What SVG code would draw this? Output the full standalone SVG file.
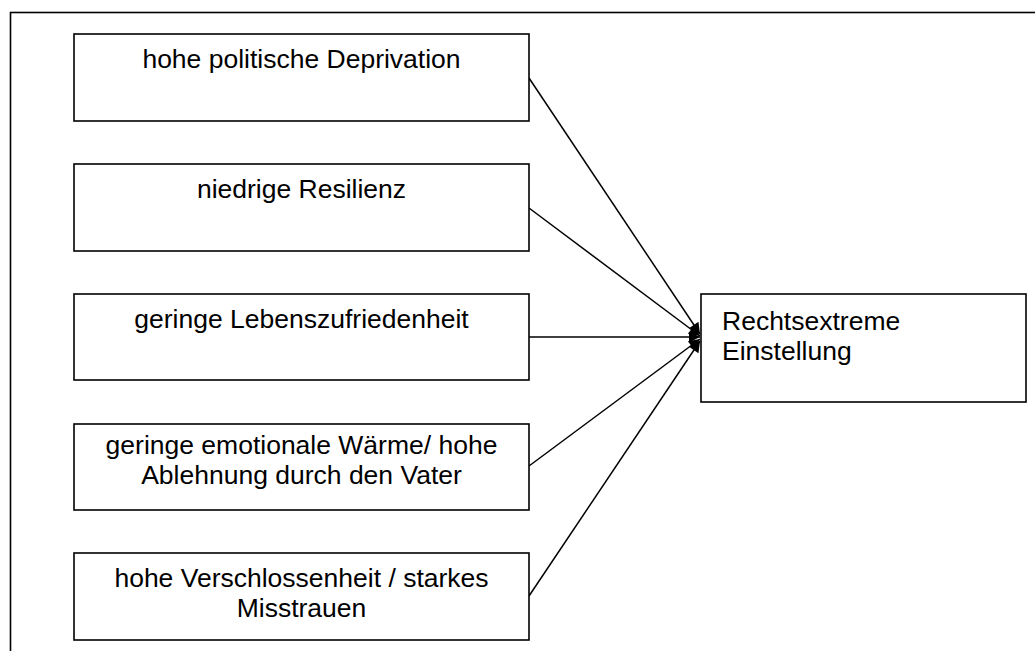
<svg xmlns="http://www.w3.org/2000/svg" width="1035" height="651" viewBox="0 0 1035 651">
<style>
.box{fill:#fff;stroke:#000;stroke-width:1.6}
.t{font-family:"Liberation Sans",Arial,sans-serif;font-size:26.5px;fill:#000}
.c{text-anchor:middle}
.ln{stroke:#000;stroke-width:1.5;fill:none;marker-end:url(#ah)}
</style>
<defs>
<marker id="ah" viewBox="0 0 10 10" refX="10" refY="5" markerWidth="14" markerHeight="11" markerUnits="userSpaceOnUse" orient="auto">
<path d="M0,0 L10,5 L0,10 z" fill="#000"/>
</marker>
</defs>
<rect x="10.5" y="12.5" width="1100" height="700" fill="#fff" stroke="#000" stroke-width="1.6"/>
<g id="connectors">
<line class="ln" x1="529" y1="78" x2="700" y2="334"/>
<line class="ln" x1="529" y1="208" x2="700" y2="336"/>
<line class="ln" x1="529" y1="337" x2="700" y2="337"/>
<line class="ln" x1="529" y1="466" x2="700" y2="339"/>
<line class="ln" x1="529" y1="596" x2="700" y2="341"/>
</g>
<g id="n1"><rect class="box" x="74" y="34" width="455" height="87"/><text class="t c" x="301.5" y="68">hohe politische Deprivation</text></g>
<g id="n2"><rect class="box" x="74" y="164" width="455" height="87"/><text class="t c" x="301.5" y="198">niedrige Resilienz</text></g>
<g id="n3"><rect class="box" x="74" y="294" width="455" height="86"/><text class="t c" x="301.5" y="328">geringe Lebenszufriedenheit</text></g>
<g id="n4"><rect class="box" x="74" y="424" width="455" height="86"/><text class="t c" x="301.5" y="454">geringe emotionale Wärme/ hohe</text><text class="t c" x="301.5" y="484">Ablehnung durch den Vater</text></g>
<g id="n5"><rect class="box" x="74" y="553" width="455" height="87"/><text class="t c" x="301.5" y="587">hohe Verschlossenheit / starkes</text><text class="t c" x="301.5" y="617">Misstrauen</text></g>
<g id="n6"><rect class="box" x="701" y="294" width="325" height="108"/><text class="t" x="722" y="330">Rechtsextreme</text><text class="t" x="722" y="360">Einstellung</text></g>
</svg>
